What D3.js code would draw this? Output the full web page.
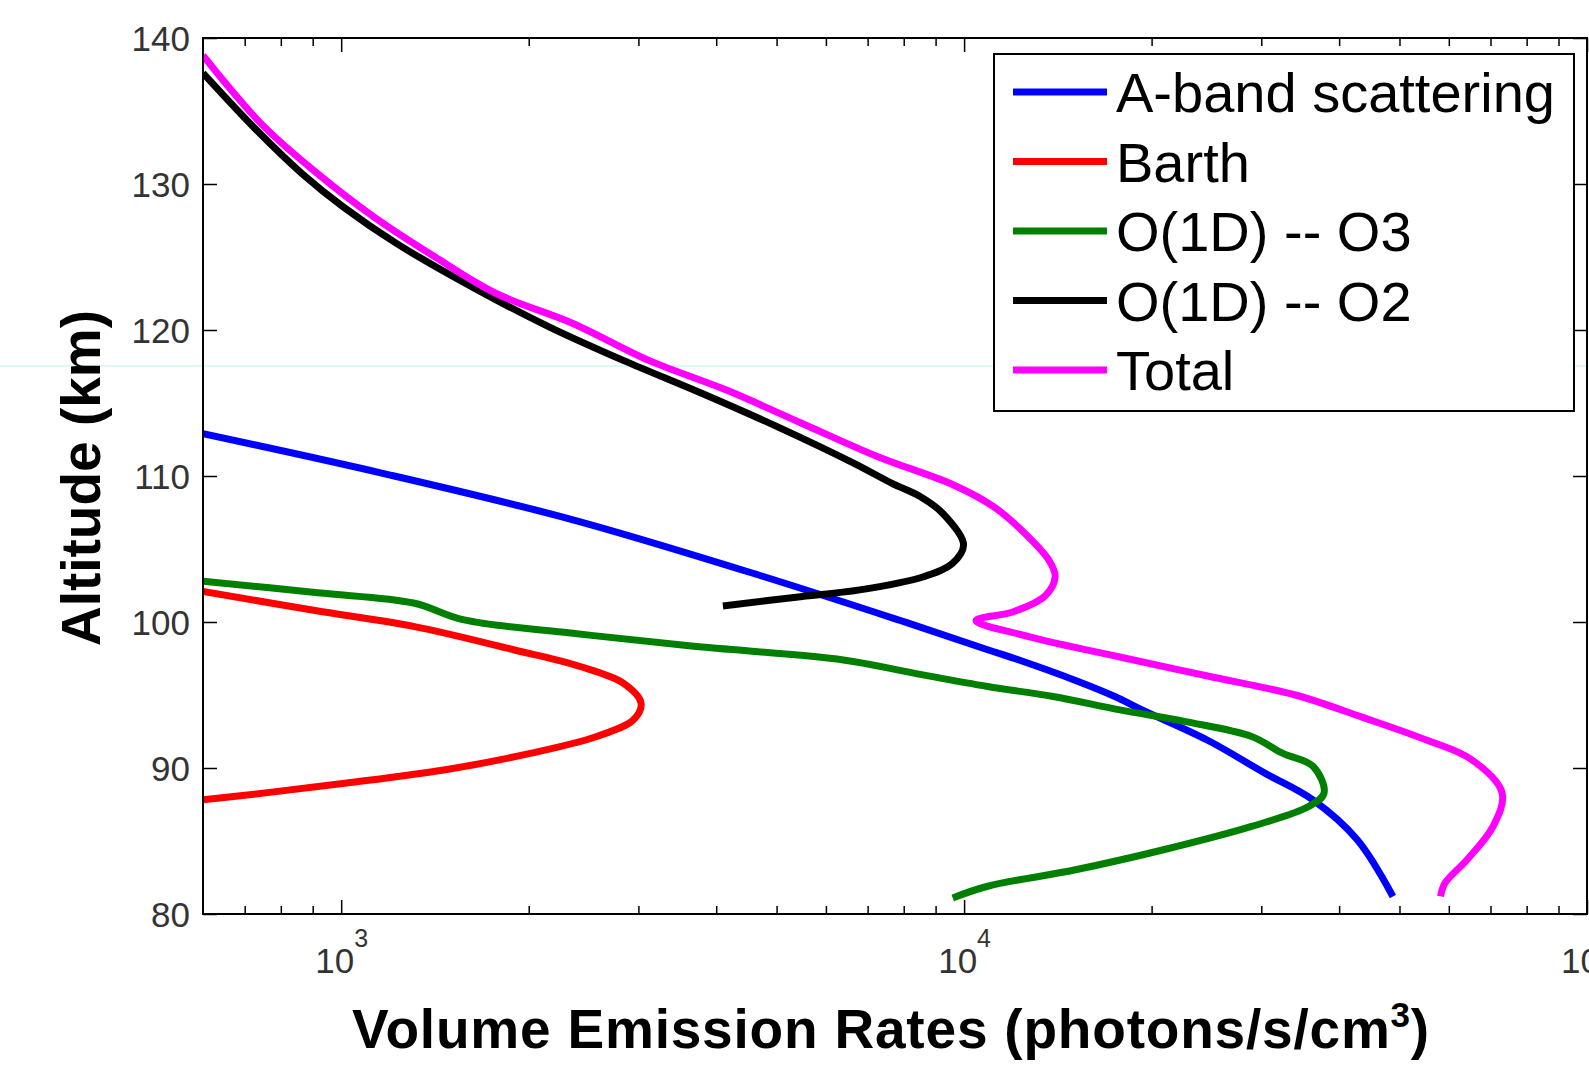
<!DOCTYPE html>
<html>
<head>
<meta charset="utf-8">
<script src="https://cdn.jsdelivr.net/npm/d3@7"></script>
<style>
  html, body { margin: 0; padding: 0; background: #fff; }
  svg { display: block; font-family: "Liberation Sans", Arial, sans-serif; }
</style>
</head>
<body>
<div id="chart"></div>
<script>
// legend order = draw order
const seriesNames = ["A-band scattering", "Barth", "O(1D) -- O3", "O(1D) -- O2", "Total"];
const seriesColors = ["#0000ff", "#ff0000", "#007f00", "#000000", "#ff00ff"];

// altitude (km) / volume emission rate (photons/s/cm^3)
const abandAlt = [112.9, 110.2, 107.0, 103.1, 100.1, 98.1, 97.4, 96.0, 94.9, 94.0, 91.9, 89.65, 87.8, 85.1, 81.2];
const abandVer = [600, 1161, 2355, 4775, 7900, 10910, 12250, 15100, 17460, 19270, 24600, 30400, 36350, 42740, 48800];

const barthAlt = [102.1, 100.8, 99.7, 98.1, 96.95, 95.8, 94.44, 93.3, 92.16, 91.0, 89.9, 88.97, 88.28, 87.82];
const barthVer = [600, 903, 1306, 1891, 2419, 2840, 3030, 2946, 2571, 2011, 1478, 1021, 750, 600];

const o3Alt = [102.8, 102.0, 101.3, 100.14, 99.23, 98.35, 97.4, 96.5, 95.58, 94.9, 93.98, 93.18, 92.16, 91.02, 90.1, 88.28, 87.36, 86.0, 84.4, 83.03, 81.9, 81.1];
const o3Ver = [600, 917, 1306, 1575, 2355, 3650, 6400, 8300, 10910, 13900, 17780, 22680, 28940, 32430, 36350, 37830, 35730, 28940, 20900, 15100, 10910, 9590];

const o2Alt = [137.6, 133.7, 130.7, 128.4, 125.9, 122.9, 120.2, 117.9, 115.7, 113.4, 110.9, 109.5, 108.6, 107.45, 105.3, 104.0, 103.1, 102.2, 101.7, 101.1];
const o2Ver = [600, 731, 866, 1010, 1230, 1630, 2160, 2843, 3773, 5000, 6634, 7660, 8500, 9237, 9980, 9570, 8610, 6800, 5373, 4100];

const totalAlt = [138.8, 134.1, 130.7, 127.75, 125.0, 122.5, 120.45, 117.9, 115.9, 113.6, 111.3, 109.4, 107.9, 106.1, 104.2, 103.1, 101.8, 100.7, 100.1, 99.0, 97.6, 96.3, 95.0, 93.5, 91.9, 90.6, 88.3, 86.0, 83.7, 82.1, 81.2];
const totalVer = [600, 745, 917, 1128, 1415, 1774, 2355, 3125, 4145, 5495, 7290, 9600, 11150, 12500, 13700, 14000, 13500, 12000, 10450, 12700, 17780, 24610, 34040, 43440, 55400, 65130, 73060, 70660, 64120, 59130, 58200];

const xTickValues = [1e3, 1e4, 1e5];
const xTickExponents = ["3", "4", "5"];
const yTickValues = [80, 90, 100, 110, 120, 130, 140];

const width = 1589;
const height = 1072;
const margin = { top: 38, left: 203, right: 2, bottom: 158 };

const tickLen = 14;
const minorLen = 8;
const lineWidth = 7;

const svg = d3.select("#chart").append("svg")
  .attr("width", width)
  .attr("height", height);

svg.append("rect")
  .attr("width", width)
  .attr("height", height)
  .attr("fill", "#fff");

// faint scan line that runs across the original picture
svg.append("line")
  .attr("x1", 0).attr("x2", width)
  .attr("y1", 366).attr("y2", 366)
  .attr("stroke", "#d4f4f4")
  .attr("stroke-width", 1.5);

const x = d3.scaleLog().domain([600, 1e5]).range([margin.left, width - margin.right]);
const y = d3.scaleLinear().domain([80, 140]).range([height - margin.bottom, margin.top]);

const isDecade = v => Math.abs(Math.log10(v) - Math.round(Math.log10(v))) < 1e-9;
const minorX = x.ticks().filter(v => v > 600 && !isDecade(v));

svg.append("clipPath")
  .attr("id", "plot-clip")
  .append("rect")
    .attr("x", margin.left)
    .attr("y", margin.top)
    .attr("width", width - margin.left - margin.right)
    .attr("height", height - margin.top - margin.bottom);

const series = [
  [abandAlt, abandVer],
  [barthAlt, barthVer],
  [o3Alt, o3Ver],
  [o2Alt, o2Ver],
  [totalAlt, totalVer]
].map(([alts, vers], i) => ({
  name: seriesNames[i],
  color: seriesColors[i],
  points: alts.map((a, j) => ({ alt: a, ver: vers[j] }))
}));

const line = d3.line()
  .x(d => x(d.ver))
  .y(d => y(d.alt))
  .curve(d3.curveCatmullRom.alpha(0.5));

svg.append("g")
  .attr("clip-path", "url(#plot-clip)")
  .selectAll("path")
  .data(series)
  .join("path")
    .attr("fill", "none")
    .attr("stroke", d => d.color)
    .attr("stroke-width", lineWidth)
    .attr("stroke-linejoin", "round")
    .attr("d", d => line(d.points));

const styleAxis = g => {
  g.select(".domain").remove();
  g.selectAll(".tick line").attr("stroke", "#000").attr("stroke-width", 1.5);
  g.attr("font-family", null).attr("font-size", 35);
};

const bottom = height - margin.bottom;
const right = width - margin.right;

// bottom axis, ticks point inward
svg.append("g")
  .attr("transform", `translate(0, ${bottom})`)
  .call(d3.axisBottom(x).tickValues(minorX).tickSize(-minorLen).tickFormat(""))
  .call(styleAxis);

svg.append("g")
  .attr("transform", `translate(0, ${bottom})`)
  .call(d3.axisBottom(x).tickValues(xTickValues).tickSize(-tickLen).tickFormat(() => "10"))
  .call(styleAxis)
  .call(g => g.selectAll(".tick text")
    .attr("fill", "#333")
    .attr("y", 59)
    .attr("dy", null)
    .each(function(d, i) {
      d3.select(this).append("tspan")
        .attr("dy", -26)
        .attr("font-size", 25)
        .text(xTickExponents[i]);
    }));

// top axis
svg.append("g")
  .attr("transform", `translate(0, ${margin.top})`)
  .call(d3.axisTop(x).tickValues(minorX).tickSize(-minorLen).tickFormat(""))
  .call(styleAxis);

svg.append("g")
  .attr("transform", `translate(0, ${margin.top})`)
  .call(d3.axisTop(x).tickValues(xTickValues).tickSize(-tickLen).tickFormat(""))
  .call(styleAxis);

// left and right axes
svg.append("g")
  .attr("transform", `translate(${margin.left}, 0)`)
  .call(d3.axisLeft(y).tickValues(yTickValues).tickSize(-tickLen).tickPadding(13))
  .call(styleAxis)
  .call(g => g.selectAll(".tick text").attr("fill", "#333").attr("dy", "0.36em"));

svg.append("g")
  .attr("transform", `translate(${right}, 0)`)
  .call(d3.axisRight(y).tickValues(yTickValues).tickSize(-tickLen).tickFormat(""))
  .call(styleAxis);

svg.append("rect")
  .attr("x", margin.left)
  .attr("y", margin.top)
  .attr("width", right - margin.left)
  .attr("height", bottom - margin.top)
  .attr("fill", "none")
  .attr("stroke", "#000")
  .attr("stroke-width", 2);

// axis titles
svg.append("text")
  .attr("transform", "translate(100, 478) rotate(-90)")
  .attr("text-anchor", "middle")
  .attr("font-weight", "bold")
  .attr("font-size", 55)
  .text("Altitude (km)");

const xTitle = svg.append("text")
  .attr("x", 891)
  .attr("y", 1048)
  .attr("text-anchor", "middle")
  .attr("font-weight", "bold")
  .attr("font-size", 55)
  .attr("letter-spacing", 0.8);
xTitle.append("tspan").text("Volume Emission Rates (photons/s/cm");
xTitle.append("tspan").attr("dy", -21).attr("font-size", 35).text("3");
xTitle.append("tspan").attr("dy", 21).text(")");

// legend
const legend = svg.append("g");

legend.append("rect")
  .attr("x", 994)
  .attr("y", 54)
  .attr("width", 580)
  .attr("height", 357)
  .attr("fill", "#fff")
  .attr("stroke", "#000")
  .attr("stroke-width", 2);

const rows = legend.selectAll("g.row")
  .data(series)
  .join("g")
    .attr("class", "row")
    .attr("transform", (d, i) => `translate(0, ${92 + i * 69.5})`);

rows.append("line")
  .attr("x1", 1013)
  .attr("x2", 1107)
  .attr("stroke", d => d.color)
  .attr("stroke-width", lineWidth);

rows.append("text")
  .attr("x", 1116)
  .attr("y", 20)
  .attr("font-size", 56)
  .attr("fill", "#000")
  .text(d => d.name);
</script>
</body>
</html>
